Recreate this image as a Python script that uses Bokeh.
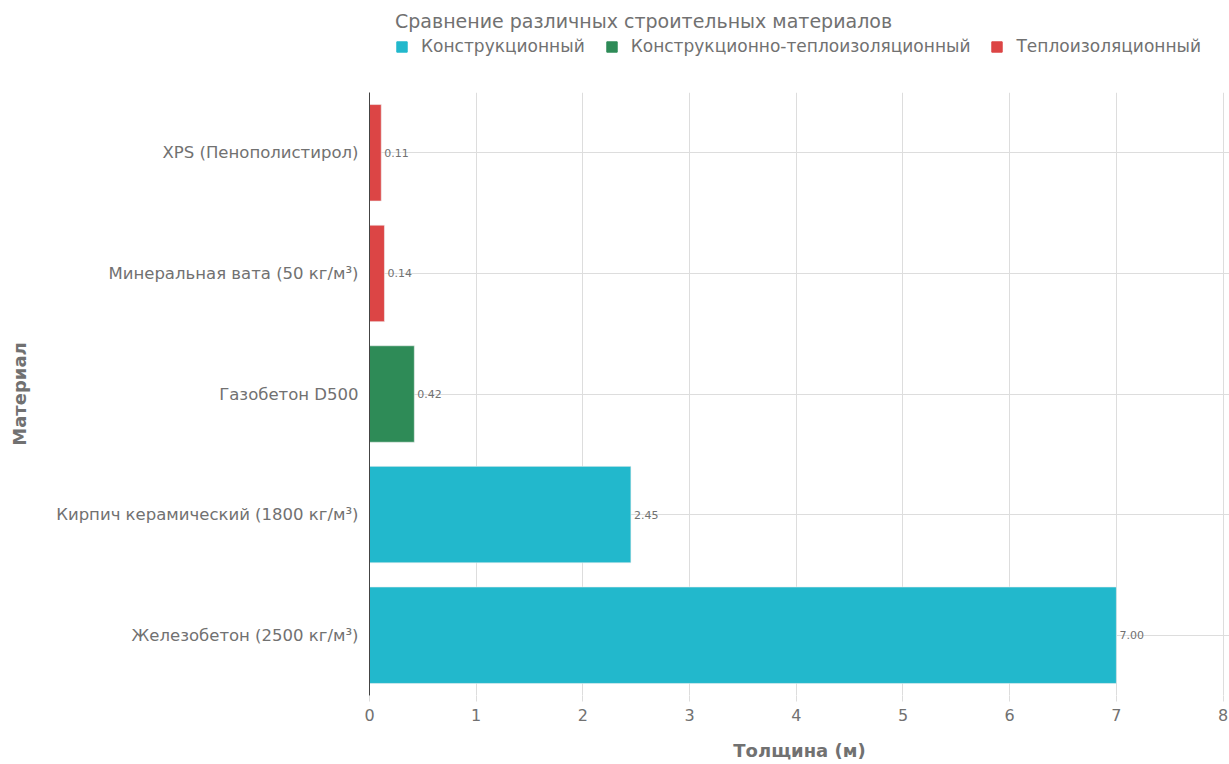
from bokeh.plotting import figure
from bokeh.models import ColumnDataSource, Legend, LegendItem, Range1d, FactorRange, FixedTicker
from bokeh.layouts import column
from bokeh.embed import file_html
from bokeh.resources import INLINE
from bokeh.core.properties import value

materials = ["Железобетон (2500 кг/м³)", "Кирпич керамический (1800 кг/м³)", "Газобетон D500",
             "Минеральная вата (50 кг/м³)", "XPS (Пенополистирол)"]
thickness = [7.00, 2.45, 0.42, 0.14, 0.11]
groups = ["Конструкционный", "Конструкционный", "Конструкционно-теплоизоляционный",
          "Теплоизоляционный", "Теплоизоляционный"]
group_order = ["Конструкционный", "Конструкционно-теплоизоляционный", "Теплоизоляционный"]
group_colors = ["#22b8cc", "#2e8b57", "#dc4545"]
x_ticks = [0, 1, 2, 3, 4, 5, 6, 7, 8]
legend_title = "Сравнение различных строительных материалов"

FONT = "DejaVu Sans"
GRAY = "#717171"
LEG_H = 60

# ---- main chart ----
p = figure(width=1229, height=764 - LEG_H, output_backend="svg", toolbar_location=None,
           y_range=FactorRange(*materials, range_padding=0), x_range=Range1d(0, 8.06),
           min_border_left=369, min_border_right=0, min_border_top=92 - LEG_H, min_border_bottom=69)
p.outline_line_color = None
p.background_fill_color = "white"

for g, c in zip(group_order, group_colors):
    idx = [i for i, gg in enumerate(groups) if gg == g]
    src = ColumnDataSource(dict(y=[materials[i] for i in idx], x=[thickness[i] for i in idx]))
    p.hbar(y="y", right="x", left=0, height=0.8, source=src, fill_color=c,
           line_color="#f0f0f0", line_width=0.6)

lsrc = ColumnDataSource(dict(y=materials, x=thickness, t=[f"{v:.2f}" for v in thickness]))
p.text(x="x", y="y", text="t", source=lsrc, x_offset=3, text_baseline="middle",
       text_font_size="11px", text_color=GRAY, text_font=value(FONT))

p.xaxis.ticker = FixedTicker(ticks=x_ticks)
p.xaxis.axis_line_color = None
p.xaxis.major_tick_line_color = "#dddddd"
p.xaxis.major_tick_out = 6
p.xaxis.major_tick_in = 0
p.xaxis.minor_tick_line_color = None
p.xaxis.major_label_text_font = FONT
p.xaxis.major_label_text_font_size = "16px"
p.xaxis.major_label_text_color = GRAY
p.xaxis.major_label_standoff = 7
p.xaxis.axis_label = "Толщина (м)"
p.xaxis.axis_label_text_font = FONT
p.xaxis.axis_label_text_font_style = "bold"
p.xaxis.axis_label_text_font_size = "18px"
p.xaxis.axis_label_text_color = GRAY
p.xaxis.axis_label_standoff = 16

p.yaxis.axis_line_color = "#444444"
p.yaxis.major_tick_line_color = None
p.yaxis.minor_tick_line_color = None
p.yaxis.major_label_text_font = FONT
p.yaxis.major_label_text_font_size = "16.5px"
p.yaxis.major_label_text_color = GRAY
p.yaxis.major_label_standoff = 5
p.yaxis.axis_label = "Материал"
p.yaxis.axis_label_text_font = FONT
p.yaxis.axis_label_text_font_style = "bold"
p.yaxis.axis_label_text_font_size = "18px"
p.yaxis.axis_label_text_color = GRAY
p.yaxis.axis_label_standoff = 23

p.xgrid.grid_line_color = "#dddddd"
p.ygrid.grid_line_color = "#dddddd"

# ---- legend strip (frame aligned with the main chart's frame) ----
lg = figure(width=1229, height=LEG_H, output_backend="svg", toolbar_location=None,
            x_range=Range1d(0, 1), y_range=Range1d(0, 1),
            min_border_left=369, min_border_right=0, min_border_top=0, min_border_bottom=0)
lg.axis.visible = False
lg.grid.visible = False
lg.outline_line_color = None
items = []
for g, c in zip(group_order, group_colors):
    # legend-only renderer; its bar lies outside the visible range
    r = lg.hbar(y=[-5], left=[-5], right=[-4], height=1, fill_color=c, line_color=c)
    items.append(LegendItem(label=g, renderers=[r]))

legend = Legend(items=items, orientation="horizontal", location=(26, 4),
                title=legend_title,
                title_text_font=FONT, title_text_font_size="19px", title_text_color=GRAY,
                title_text_font_style="normal", title_standoff=4,
                label_text_font=FONT, label_text_font_size="17px", label_text_color=GRAY,
                glyph_width=13, glyph_height=13, label_standoff=13, spacing=20,
                padding=0, margin=0, border_line_color=None, background_fill_alpha=0)
lg.add_layout(legend, "center")

layout = column(lg, p, spacing=0)
open("out.html", "w").write(file_html(layout, INLINE))
